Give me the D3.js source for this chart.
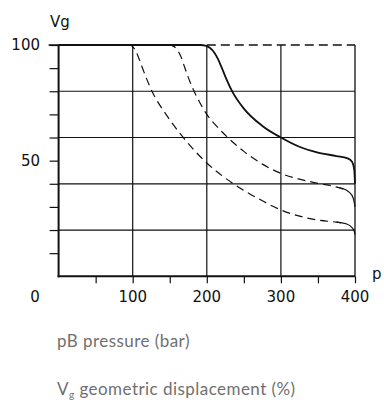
<!DOCTYPE html>
<html><head><meta charset="utf-8">
<script src="https://cdn.jsdelivr.net/npm/d3@7"></script>
<style>
body{margin:0;background:#fff;}
svg{display:block;}
</style></head>
<body>
<svg id="c" width="384" height="403"></svg>
<script>
// Data
const xLabelTicks = [100,200,300,400];
const xMinorTicks = [50,100,150,200,250,300,350,400];
const yLabelTicks = [100,50];
const yMinorTicks = [10,20,30,40,50,60,70,80,90,100];
const yGrid = [20,40,60,80];
const xGrid = [100,200,300];
// curves [p (bar), Vg (%)]
const curveSolidP = [0,192,198,204,210,215,220,226,235,250,275,300,325,350,375,390,396,399,400];
const curveSolidV = [100,100,99.7,98.8,96.8,94,90.3,85.6,79.5,72.5,65,60,56,53.5,52,51,49.5,46,40];
const curveMidP = [148,154,160,165,170,175,180,190,200,213,227,250,275,300,325,350,375,388,396,399,400];
const curveMidV = [100,99.6,98,95,90.5,86,82,75.5,70,65,60.4,54,48.5,44.5,42,40.2,38.6,37.3,35,32,30];
const curveLowP = [94,99,103,108,115,126,145,167,200,236,270,300,350,375,388,396,399,400];
const curveLowV = [100,99.6,98,94.5,88.5,80,70,60.5,49,40,33.5,28.7,24.3,23.4,22.7,21,19.5,18];
const capacityLimitP = [200,400];
const capacityLimitV = [100,100];

const svg = d3.select("#c");
const x = d3.scaleLinear().domain([0,400]).range([58.6,355]);
const y = d3.scaleLinear().domain([0,100]).range([276.3,45]);
const ink = "#111";

// grid
const g = svg.append("g");
g.selectAll(".hg").data(yGrid).join("line")
  .attr("x1", x(0)).attr("x2", x(400)).attr("y1", d=>y(d)).attr("y2", d=>y(d))
  .attr("stroke", ink).attr("stroke-width", 1.2);
g.selectAll(".vg").data(xGrid).join("line")
  .attr("x1", d=>x(d)).attr("x2", d=>x(d)).attr("y1", y(100)).attr("y2", y(0))
  .attr("stroke", ink).attr("stroke-width", 1.2);

// y axis ticks
const yAxis = d3.axisLeft(y).tickValues(yMinorTicks).tickSize(9).tickFormat("");
svg.append("g").attr("transform", `translate(${x(0)},0)`).call(yAxis)
  .call(a=>a.select(".domain").remove())
  .call(a=>a.selectAll(".tick line").attr("stroke", ink).attr("stroke-width", 1.2));
// x axis ticks
const xAxis = d3.axisBottom(x).tickValues(xMinorTicks).tickSize(7).tickFormat("");
svg.append("g").attr("transform", `translate(0,${y(0)})`).call(xAxis)
  .call(a=>a.select(".domain").remove())
  .call(a=>a.selectAll(".tick line").attr("stroke", ink).attr("stroke-width", 1.2));

// right border
svg.append("line").attr("x1", x(400)).attr("x2", x(400)).attr("y1", y(100)).attr("y2", y(0))
  .attr("stroke", ink).attr("stroke-width", 1.3);
// top dashed continuation
svg.append("path").datum(capacityLimitP.map((p,i)=>[p,capacityLimitV[i]]))
  .attr("d", d3.line().x(d=>x(d[0])).y(d=>y(d[1])))
  .attr("fill","none").attr("stroke", ink).attr("stroke-width",1.3).attr("stroke-dasharray","9,5");

// axes lines thick
svg.append("line").attr("x1", x(0)).attr("x2", x(0)).attr("y1", y(100)).attr("y2", y(0)+1)
  .attr("stroke", ink).attr("stroke-width", 2);
svg.append("line").attr("x1", x(0)-1).attr("x2", x(400)).attr("y1", y(0)).attr("y2", y(0))
  .attr("stroke", ink).attr("stroke-width", 2);

const line = d3.line().curve(d3.curveMonotoneX).x(d=>x(d[0])).y(d=>y(d[1]));
const zip = (P,V)=>P.map((p,i)=>[p,V[i]]);
// solid curve
svg.append("path").datum(zip(curveSolidP, curveSolidV)).attr("d", line)
  .attr("fill","none").attr("stroke", ink).attr("stroke-width",1.8);
// dashed curves: dashed body, solid tail
[[curveMidP,curveMidV],[curveLowP,curveLowV]].forEach(([P,V])=>{
  const pts = zip(P,V);
  svg.append("path").datum(pts.filter(d=>d[0]<=388)).attr("d", line)
    .attr("fill","none").attr("stroke", ink).attr("stroke-width",1.2).attr("stroke-dasharray","8,5");
  svg.append("path").datum(pts.filter(d=>d[0]>=375)).attr("d", line)
    .attr("fill","none").attr("stroke", ink).attr("stroke-width",1.2);
});
// top solid line along 100 from tick to knee
svg.append("line").attr("x1", x(0)-10).attr("x2", x(192)).attr("y1", y(100)).attr("y2", y(100))
  .attr("stroke", ink).attr("stroke-width", 1.6);

// labels
const font = "DejaVu Sans";
svg.selectAll(".yl").data(yLabelTicks).join("text")
  .attr("x", 40).attr("y", d=>y(d)).attr("dy","0.36em").attr("text-anchor","end")
  .attr("font-family", font).attr("font-size", 15).attr("fill", ink).text(d=>d);
svg.selectAll(".xl").data(xLabelTicks).join("text")
  .attr("x", d=>x(d)).attr("y", 302).attr("text-anchor","middle")
  .attr("font-family", font).attr("font-size", 15).attr("fill", ink).text(d=>d);
svg.append("text").attr("x", 35).attr("y", 302).attr("text-anchor","middle")
  .attr("font-family", font).attr("font-size", 15).attr("fill", ink).text("0");
svg.append("text").attr("x", 50).attr("y", 27)
  .attr("font-family", font).attr("font-size", 15).attr("fill", ink).text("Vg");
svg.append("text").attr("x", 372).attr("y", 279)
  .attr("font-family", font).attr("font-size", 15).attr("fill", ink).text("p");

// captions
const cap = "Lato";
svg.append("text").attr("x", 57).attr("y", 347)
  .attr("font-family", cap).attr("font-size", 17).attr("letter-spacing", 0.45).attr("fill", "#707070").text("pB pressure (bar)");
const t2 = svg.append("text").attr("x", 57).attr("y", 395)
  .attr("font-family", cap).attr("font-size", 17).attr("letter-spacing", 0.45).attr("fill", "#707070");
t2.append("tspan").text("V");
t2.append("tspan").attr("font-size", 10).attr("dy", 3).text("g");
t2.append("tspan").attr("dy", -3).text(" geometric displacement (%)");
</script>
</body></html>
